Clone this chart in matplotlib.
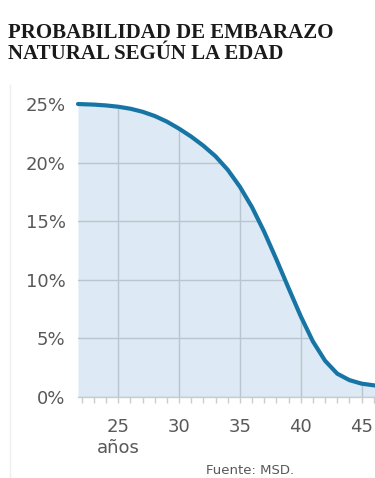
import numpy as np
import matplotlib
matplotlib.use("Agg")
import matplotlib.pyplot as plt
from matplotlib.lines import Line2D

# Probabilidad de embarazo natural por edad
edades = [21.7, 23, 24, 25, 26, 27, 28, 29, 30, 31, 32, 33, 34, 35,
          36, 37, 38, 39, 40, 41, 42, 43, 44, 45, 46.1]
probabilidad = [25.0, 24.95, 24.88, 24.77, 24.6, 24.34, 23.98, 23.5, 22.9, 22.22,
                21.44, 20.54, 19.39, 17.94, 16.19, 14.09, 11.74, 9.29, 6.89, 4.74,
                3.09, 1.99, 1.44, 1.14, 0.98]

xticks = [25, 30, 35, 40, 45]
xlabels = ["25\naños", "30", "35", "40", "45"]
yticks = [0, 5, 10, 15, 20, 25]
ylabels = ["0%", "5%", "10%", "15%", "20%", "25%"]

line_color = "#1775a6"
fill_color = "#dde9f4"
grid_color = "#b9c6cf"
text_color = "#585858"

fig = plt.figure(figsize=(3.75, 4.78), dpi=100)
ax = fig.add_axes([78 / 375, 1 - 397 / 478, 1 - 78 / 375, (397 - 92.3) / 478])

poly = ax.fill_between(edades, 0, probabilidad, color=fill_color, lw=0, zorder=1)
ax.plot(edades, probabilidad, color=line_color, lw=3, solid_capstyle="round",
        solid_joinstyle="round", clip_on=False, zorder=3)

ax.set_xlim(21.7, 46.1)
ax.set_ylim(0, 26)
ax.set_xticks(xticks)
ax.set_xticklabels(xlabels)
ax.set_xticks(np.arange(22, 47, 1), minor=True)
ax.set_yticks(yticks)
ax.set_yticklabels(ylabels)

# grid only inside the filled area
ax.grid(True, color=grid_color, lw=1)
ax.set_axisbelow(False)
clip = poly.get_paths()[0]
for gl in ax.get_xgridlines() + ax.get_ygridlines():
    gl.set_clip_path(clip, ax.transData)
    gl.set_zorder(2)

for s in ["top", "right", "left"]:
    ax.spines[s].set_visible(False)
ax.spines["bottom"].set_color("#cccccc")
ax.spines["bottom"].set_linewidth(1)

ax.tick_params(axis="x", which="both", direction="out", length=4,
               color="#cccccc", width=1)
ax.tick_params(axis="x", which="major", pad=11, labelsize=13,
               labelcolor=text_color)
ax.tick_params(axis="y", length=0, pad=9, labelsize=13, labelcolor=text_color)
for lab in ax.get_xticklabels() + ax.get_yticklabels():
    lab.set_family("DejaVu Sans")

fig.text(8 / 375, 1 - 23 / 478, "PROBABILIDAD DE EMBARAZO\nNATURAL SEGÚN LA EDAD",
         family="Liberation Serif", weight="bold", fontsize=15, color="#1a1a1a",
         va="top", ha="left", linespacing=1.05)

fig.text(206 / 375, 1 - 471 / 478, "Fuente: MSD.", family="DejaVu Sans",
         fontsize=9.5, color=text_color, ha="left", va="center")

# faint frame line on the left
fig.add_artist(Line2D([10 / 375, 10 / 375], [0, 1 - 85 / 478],
                      transform=fig.transFigure, color="#efefef", lw=1))

fig.savefig("out.png", dpi=100)
